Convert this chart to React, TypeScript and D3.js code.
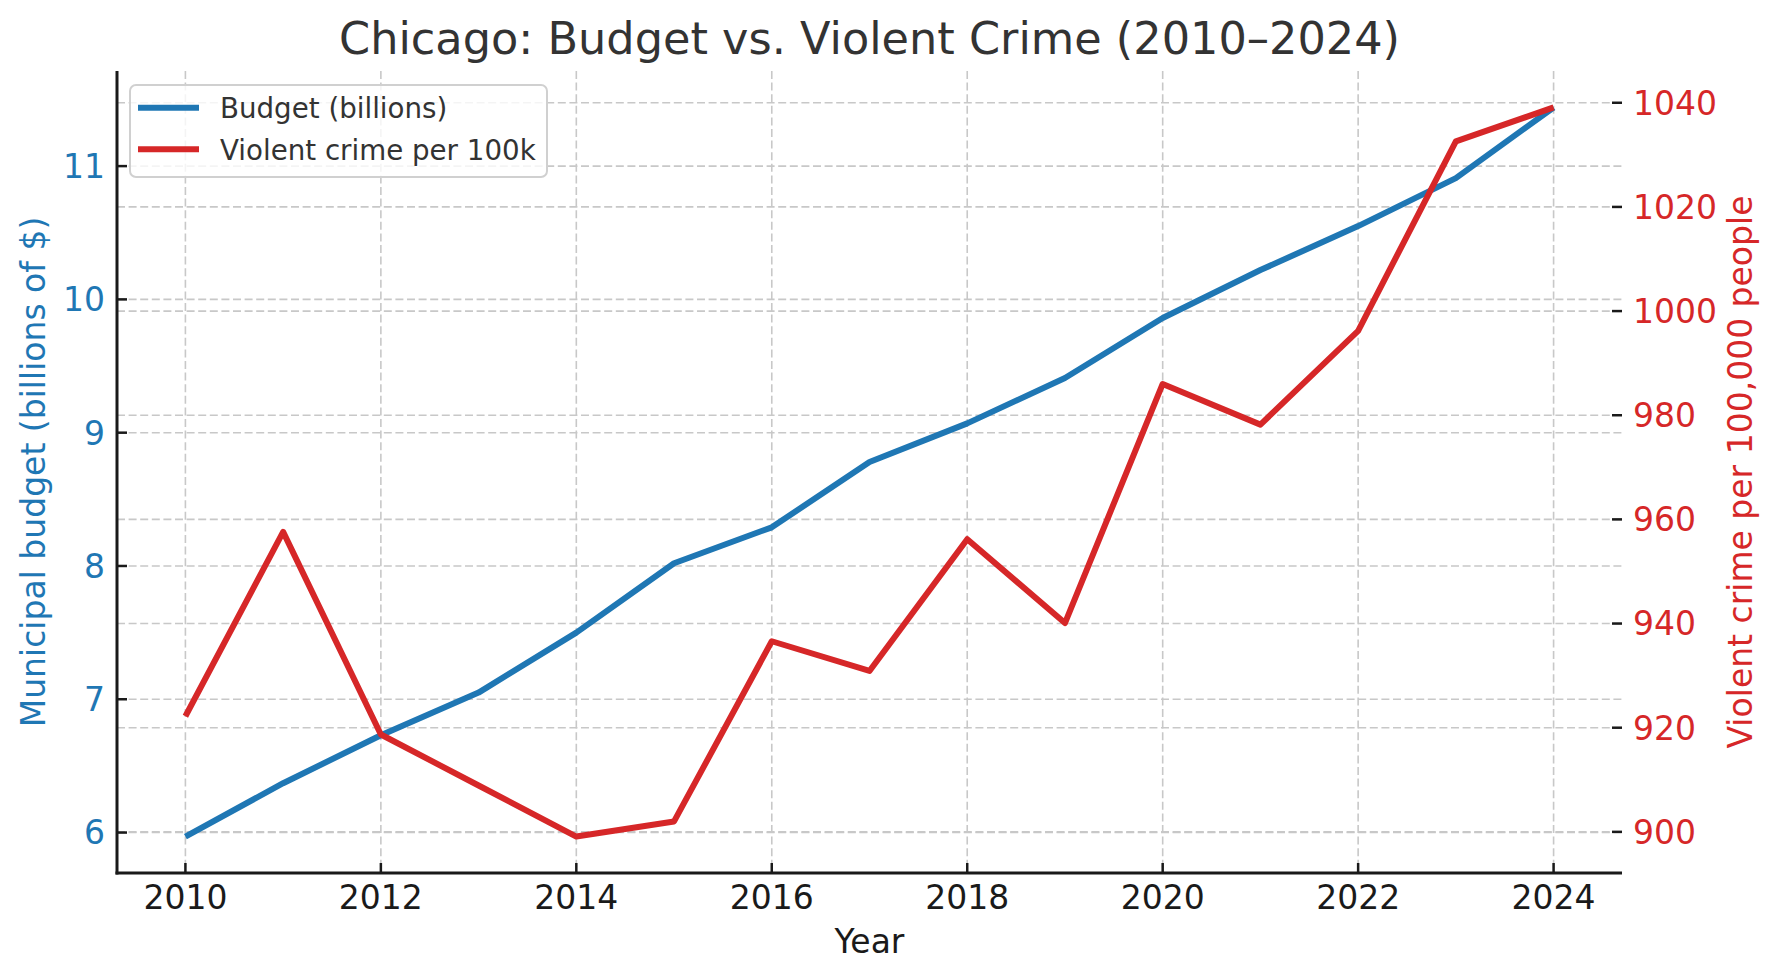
import React from 'react';
import * as d3 from 'd3';

// data
const years = [2010, 2011, 2012, 2013, 2014, 2015, 2016, 2017, 2018, 2019, 2020, 2021, 2022, 2023, 2024];
const budget = [5.97, 6.37, 6.73, 7.05, 7.5, 8.02, 8.29, 8.78, 9.07, 9.41, 9.86, 10.22, 10.55, 10.91, 11.44];
const crime = [922.2, 957.6, 918.7, 908.9, 899.1, 902.0, 936.6, 930.9, 956.2, 940.1, 986.0, 978.2, 996.2, 1032.6, 1039.1];

const xTicks = [2010, 2012, 2014, 2016, 2018, 2020, 2022, 2024];
const budgetTicks = [6, 7, 8, 9, 10, 11];
const crimeTicks = [900, 920, 940, 960, 980, 1000, 1020, 1040];

const W = 1780;
const H = 980;
const margin = { top: 71, right: 158, bottom: 107, left: 117 };
const FONT = '"DejaVu Sans", sans-serif';
const BLUE = '#1f77b4';
const RED = '#d62728';
const GRID = '#c8c8c8';

// matplotlib-style 5% padding around the data
const pad = (vals: number[]): [number, number] => {
  const [lo, hi] = d3.extent(vals) as [number, number];
  const m = (hi - lo) * 0.05;
  return [lo - m, hi + m];
};

const App: React.FC = () => {
  const x0 = margin.left;
  const x1 = W - margin.right;
  const y0 = H - margin.bottom;
  const y1 = margin.top;

  const x = d3.scaleLinear().domain(pad(years)).range([x0, x1]);
  const yL = d3.scaleLinear().domain(pad(budget)).range([y0, y1]);
  const yR = d3.scaleLinear().domain(pad(crime)).range([y0, y1]);

  const budgetLine = d3.line<number>()
    .x((_, i) => x(years[i]))
    .y(d => yL(d));
  const crimeLine = d3.line<number>()
    .x((_, i) => x(years[i]))
    .y(d => yR(d));

  const midY = (y0 + y1) / 2;
  const midX = (x0 + x1) / 2;

  return (
    <div style={{ position: 'absolute', left: 0, top: 0 }}>
      <svg width={W} height={H} style={{ display: 'block', background: '#fff' }} fontFamily={FONT}>
        {/* grid */}
        <g stroke={GRID} strokeWidth={1.6} strokeDasharray="8,3.6">
          {xTicks.map(t => (
            <line key={'gx' + t} x1={x(t)} x2={x(t)} y1={y1} y2={y0} />
          ))}
          {budgetTicks.map(t => (
            <line key={'gl' + t} x1={x0} x2={x1} y1={yL(t)} y2={yL(t)} />
          ))}
          {crimeTicks.map(t => (
            <line key={'gr' + t} x1={x0} x2={x1} y1={yR(t)} y2={yR(t)} />
          ))}
        </g>

        {/* series */}
        <path d={budgetLine(budget) || ''} fill="none" stroke={BLUE} strokeWidth={6} strokeLinejoin="round" />
        <path d={crimeLine(crime) || ''} fill="none" stroke={RED} strokeWidth={6} strokeLinejoin="round" />

        {/* spines */}
        <line x1={x0} x2={x0} y1={y1} y2={y0 + 1.5} stroke="#1a1a1a" strokeWidth={3} />
        <line x1={x0 - 1.5} x2={x1} y1={y0} y2={y0} stroke="#1a1a1a" strokeWidth={3} />

        {/* x axis */}
        {xTicks.map(t => (
          <g key={'xt' + t}>
            <line x1={x(t)} x2={x(t)} y1={y0} y2={y0 - 10} stroke="#1a1a1a" strokeWidth={2.5} />
            <text x={x(t)} y={909} textAnchor="middle" fontSize={33} fill="#1a1a1a">{t}</text>
          </g>
        ))}
        <text x={midX} y={953} textAnchor="middle" fontSize={33} fill="#1a1a1a">Year</text>

        {/* left axis */}
        {budgetTicks.map(t => (
          <g key={'lt' + t}>
            <line x1={x0} x2={x0 + 10} y1={yL(t)} y2={yL(t)} stroke="#1a1a1a" strokeWidth={2.5} />
            <text x={105} y={yL(t)} dy="0.36em" textAnchor="end" fontSize={33} fill={BLUE}>{t}</text>
          </g>
        ))}
        <text transform={`translate(45,${midY}) rotate(-90)`} textAnchor="middle" fontSize={33} fill={BLUE}>
          Municipal budget (billions of $)
        </text>

        {/* right axis */}
        {crimeTicks.map(t => (
          <g key={'rt' + t}>
            <line x1={x1 - 10} x2={x1} y1={yR(t)} y2={yR(t)} stroke="#1a1a1a" strokeWidth={2.5} />
            <text x={1633} y={yR(t)} dy="0.36em" textAnchor="start" fontSize={33} fill={RED}>{t}</text>
          </g>
        ))}
        <text transform={`translate(1752,${midY}) rotate(-90)`} textAnchor="middle" fontSize={33} fill={RED}>
          Violent crime per 100,000 people
        </text>

        {/* title */}
        <text x={midX} y={54} textAnchor="middle" fontSize={44.6} fill="#333333">
          Chicago: Budget vs. Violent Crime (2010–2024)
        </text>

        {/* legend */}
        <g>
          <rect x={130} y={85} width={417} height={92} rx={6} fill="#ffffff" fillOpacity={0.8} stroke="#d0d0d0" strokeWidth={2} />
          <line x1={138} x2={199} y1={107.7} y2={107.7} stroke={BLUE} strokeWidth={6} />
          <text x={220} y={118} fontSize={27.7} fill="#333333">Budget (billions)</text>
          <line x1={138} x2={199} y1={149.3} y2={149.3} stroke={RED} strokeWidth={6} />
          <text x={220} y={160} fontSize={27.7} fill="#333333">Violent crime per 100k</text>
        </g>
      </svg>
    </div>
  );
};

export default App;
